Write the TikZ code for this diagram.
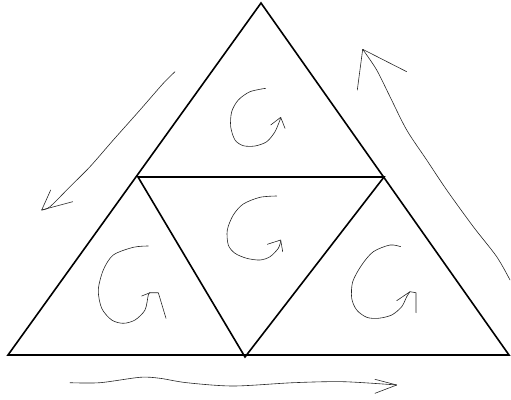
\documentclass[tikz,border=0pt]{standalone}
\begin{document}
\begin{tikzpicture}[x=1pt,y=-1pt,
  edge/.style={line width=1.6pt,line join=miter},
  hand/.style={line width=0.6pt,line cap=round,line join=round,black!85}]
\useasboundingbox (0,0) rectangle (511,399);
% big triangle
\coordinate (A) at (261,3);
\coordinate (B) at (8,355);
\coordinate (C) at (509,355);
\coordinate (L) at (138,177);
\coordinate (R) at (384,177);
\coordinate (M) at (245,357);
\draw[edge] (A) -- (B) -- (C) -- cycle;
\draw[edge] (L) -- (R) -- (M) -- cycle;
% top curl
\draw[hand] plot[smooth] coordinates {(265.7,88.3) (250,91.7) (238.3,100) (231.7,111.7) (230.7,126.7) (235,140) (243.3,145.7) (255,146) (266.7,141.7) (275,131.7) (280.7,118)};
\draw[hand] (270.7,125) -- (280.7,117.3) -- (285,128.3);
% middle curl
\draw[hand] plot[smooth] coordinates {(276.7,196) (260,197.3) (243.3,204) (233.3,215) (227.3,230) (228.3,245) (235,253.3) (246.7,258.3) (260,260) (270,256.7) (278.3,248.3) (280.7,241)};
\draw[hand] (267.3,244.3) -- (280.7,240) -- (282.7,251.7);
% left curl
\draw[hand] plot[smooth] coordinates {(148.3,246) (133.3,247.3) (113.3,255) (103.3,270) (98.3,290) (101.7,308.3) (111.7,320) (123.3,323.3) (135,320) (145,310) (148.3,295) (150,292.7)};
\draw[hand] (141.7,296) -- (150,292.7) -- (158.3,292.7) -- (166,318.3);
% right curl
\draw[hand] plot[smooth] coordinates {(400.7,246.7) (390,245) (373.3,251.7) (361.7,265) (352.7,281.7) (351.7,298.3) (356.7,310) (366.7,317.3) (378.3,318.3) (391.7,315) (401.7,306.7) (406.7,296.7) (410,291.7)};
\draw[hand] (396.7,300.7) -- (410,291.7) -- (416,292.7) -- (416,312.7);
% left arrow
\draw[hand] plot[smooth] coordinates {(175,71.7) (163.3,83.3) (140,110) (113.3,140) (90,166.7) (70,186.7) (50,206.7) (41.7,210)};
\draw[hand] (50.7,190) -- (41.7,210) -- (72.7,201.7);
% right arrow
\draw[hand] plot[smooth] coordinates {(362.7,49.3) (376.7,70) (390,96.7) (406.7,130) (426.7,160) (446.7,190) (473.3,226.7) (496.7,256.7) (510,280)};
\draw[hand] (357.3,90) -- (362.7,49.3) -- (406.7,71.7);
% bottom arrow
\draw[hand] plot[smooth] coordinates {(70,382.7) (100,382.7) (140,377.3) (160,378.3) (186.7,382.7) (233.3,386) (293.3,382.7) (343.3,381.7) (396.7,385)};
\draw[hand] (375,379.3) -- (396.7,385) -- (375,393.3);
\end{tikzpicture}
\end{document}
